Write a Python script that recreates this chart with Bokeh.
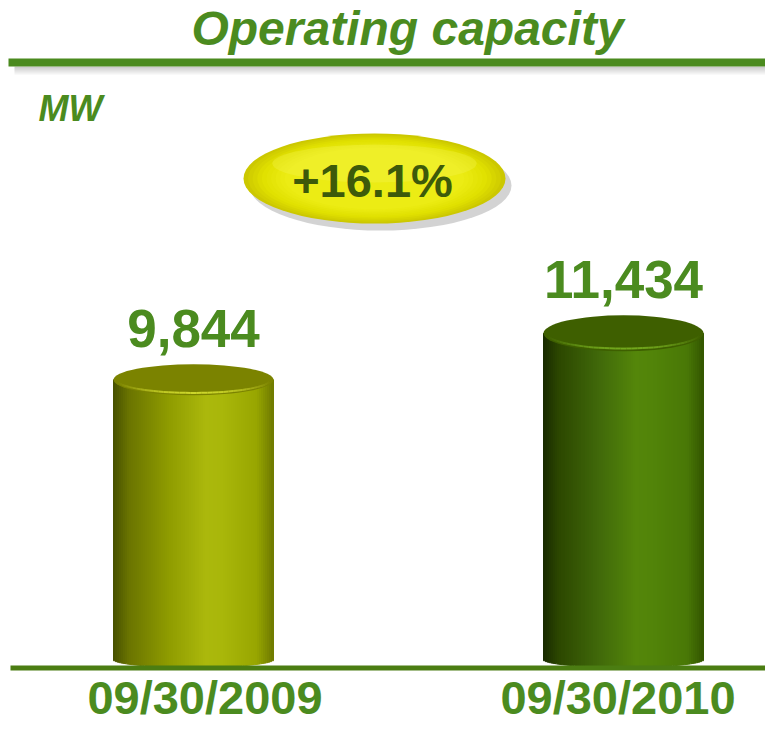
import numpy as np
from bokeh.plotting import figure
from bokeh.models import Range1d
from bokeh.core.properties import value
from bokeh.embed import file_html
from bokeh.resources import INLINE

# ---------------- data ----------------
categories = ["09/30/2009", "09/30/2010"]
capacity_mw = [9844, 11434]
value_labels = ["9,844", "11,434"]
growth_label = "+16.1%"
title_text = "Operating capacity"
unit_text = "MW"

# ---------------- layout ----------------
W, H = 765, 726
BASE_PX = 667          # baseline (value 0), pixels from top of canvas
K = 0.02923            # pixels per MW
X0_PX = 193            # pixel of first category centre
DX_PX = 430            # pixels between category centres
BL = 0.39              # svg text baseline compensation (em)

x_start = -X0_PX / DX_PX
x_end = x_start + W / DX_PX
y_start = -(H - BASE_PX) / K
y_end = BASE_PX / K


def xd(px):
    return x_start + px / DX_PX


def yd(py):
    return (BASE_PX - py) / K


def ytext(py, size):
    return yd(py - BL * size)


GREEN = "#4b8b1f"
FONT = value("Liberation Sans")

p = figure(width=W, height=H, x_range=Range1d(x_start, x_end),
           y_range=Range1d(y_start, y_end), output_backend="svg",
           toolbar_location=None, min_border=0, outline_line_color=None,
           x_axis_location=None, y_axis_location=None)
p.grid.visible = False
p.background_fill_color = "white"
p.border_fill_color = "white"


def hex2rgb(h):
    h = h.lstrip("#")
    return np.array([int(h[i:i + 2], 16) for i in (0, 2, 4)], dtype=float)


def shade(stops, t):
    pos = np.array([s[0] for s in stops])
    cols = np.array([hex2rgb(s[1]) for s in stops])
    out = []
    for tt in t:
        rgb = [np.interp(tt, pos, cols[:, c]) for c in range(3)]
        out.append("#%02x%02x%02x" % tuple(int(round(v)) for v in rgb))
    return out


# ---------------- title & rule ----------------
for off, a in [(5, 0.30), (7, 0.22), (9, 0.14), (11, 0.07)]:
    p.segment(x0=[xd(14)], y0=[yd(62 + off)], x1=[xd(W)], y1=[yd(62 + off)],
              line_color="#555555", line_alpha=a, line_width=2)
p.segment(x0=[xd(8)], y0=[yd(62)], x1=[xd(W)], y1=[yd(62)],
          line_color="#4a8a1e", line_width=8)

p.text(x=[xd(407)], y=[ytext(47, 48)], text=[title_text], text_font=FONT,
       text_font_style="bold italic", text_font_size="48px", text_color=GREEN,
       text_align="center", text_baseline="alphabetic")
p.text(x=[xd(38)], y=[ytext(122, 36)], text=[unit_text], text_font=FONT,
       text_font_style="bold italic", text_font_size="36px", text_color=GREEN,
       text_align="left", text_baseline="alphabetic")

# ---------------- cylinders ----------------
bar_w = 160 / DX_PX
top_half_px = [15.5, 18]
bot_h = 8 / K
N = 80
side_stops = [
    [(0.0, "#465000"), (0.10, "#6a7400"), (0.35, "#8f9c00"), (0.58, "#abb80c"),
     (0.68, "#a9b70a"), (0.9, "#97a500"), (1.0, "#6f7a00")],
    [(0.0, "#182a00"), (0.10, "#2c4700"), (0.35, "#40690a"), (0.58, "#54860a"),
     (0.68, "#528409"), (0.9, "#497806"), (1.0, "#335600")],
]
top_colors = ["#7b8300", "#3e5f00"]
rim_colors = ["#d6e030", "#78b020"]

for i, v in enumerate(capacity_mw):
    top_h = 2 * top_half_px[i] / K
    u = np.linspace(-1, 1, N + 1)
    uc = (u[:-1] + u[1:]) / 2
    left = i + u[:-1] * bar_w / 2
    right = i + u[1:] * bar_w / 2
    bottom = bot_h * (1 - np.sqrt(1 - uc ** 2))
    cols = shade(side_stops[i], (uc + 1) / 2)
    p.quad(left=left, right=right, top=[v] * N, bottom=bottom,
           fill_color=cols, line_color=cols, line_width=1)
    p.ellipse(x=[i], y=[v], width=bar_w, height=top_h,
              fill_color=top_colors[i], line_color=None)
    t = np.linspace(np.pi * 1.05, np.pi * 1.95, 40)
    xs = i + (bar_w / 2) * 0.96 * np.cos(t)
    ys = v + (top_h / 2) * 0.85 * np.sin(t)
    alpha = np.clip(np.sin((t[:-1] - np.pi)) ** 2, 0, 1) * 0.9
    p.segment(x0=xs[:-1], y0=ys[:-1], x1=xs[1:], y1=ys[1:],
              line_color=rim_colors[i], line_alpha=alpha, line_width=2)

# value labels above cylinders
VSIZE = 53
p.text(x=list(range(len(capacity_mw))),
       y=[v + (top_half_px[i] + 15 + BL * VSIZE) / K for i, v in enumerate(capacity_mw)],
       text=value_labels, text_font=FONT, text_font_style="bold",
       text_font_size="%dpx" % VSIZE, text_color=GREEN, text_align="center",
       text_baseline="alphabetic")

# baseline
p.segment(x0=[xd(10)], y0=[yd(667.5)], x1=[xd(W)], y1=[yd(667.5)],
          line_color="#4b7d12", line_width=5)

# category labels
label_dx = [11.5, -5.5]
p.text(x=[i + label_dx[i] / DX_PX for i in range(len(categories))],
       y=[ytext(715, 47)] * len(categories), text=categories, text_font=FONT,
       text_font_style="bold", text_font_size="47px", text_color=GREEN,
       text_align="center", text_baseline="alphabetic")

# ---------------- growth badge ----------------
bx, by = xd(374), yd(178)
bw, bh = 262 / DX_PX, 90 / K
p.ellipse(x=[xd(380)], y=[yd(185)], width=bw, height=bh,
          fill_color="#808080", fill_alpha=0.35, line_color=None)
ring = shade([(0.0, "#ccc800"), (0.4, "#e0e000"), (1.0, "#ecec14")], np.linspace(0, 1, 10))
for s, c in enumerate(ring):
    f = 1 - s * 0.035
    p.ellipse(x=[bx], y=[by], width=bw * f, height=bh * f, fill_color=c, line_color=None)
p.ellipse(x=[bx], y=[yd(163)], width=bw * 0.78, height=bh * 0.42,
          fill_color="#f6f65a", fill_alpha=0.3, line_color=None)
p.text(x=[xd(372)], y=[ytext(198, 47)], text=[growth_label], text_font=FONT,
       text_font_style="bold", text_font_size="47px", text_color="#3d5a0a",
       text_align="center", text_baseline="alphabetic")

open("out.html", "w").write(file_html(p, INLINE))
